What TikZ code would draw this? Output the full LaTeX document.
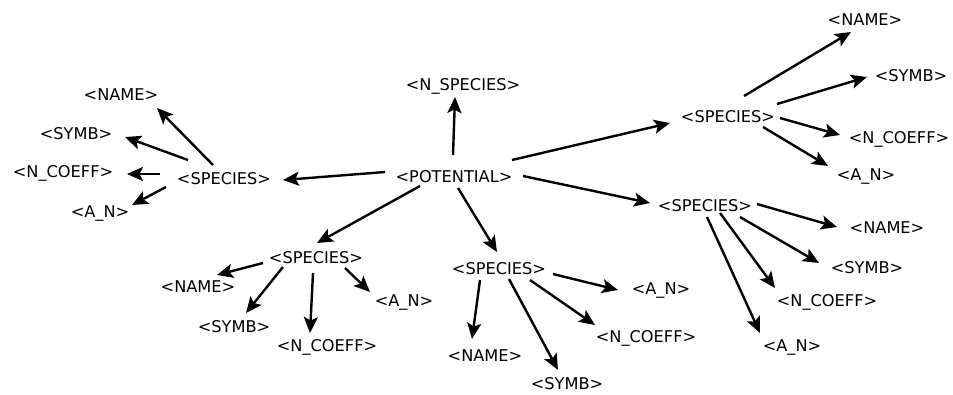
\documentclass[tikz,border=0pt]{standalone}
\usepackage{fontspec}
\setmainfont{DejaVu Sans}
\usetikzlibrary{arrows.meta}
\begin{document}
\begin{tikzpicture}[x=1pt,y=-1pt,
  lbl/.style={inner sep=0pt,font=\fontsize{16.2}{19}\selectfont},
  arr/.style={line width=2.4pt,-{Stealth[length=16pt,width=14pt,inset=3.5pt]}}]
\useasboundingbox[fill=white] (0,0) rectangle (953,394);
% nodes
\node[lbl] (pot) at (454,177) {<POTENTIAL>};
\node[lbl] (ns) at (463,86) {<N\_SPECIES>};
% left cluster
\node[lbl] (sp1) at (224,179) {<SPECIES>};
\node[lbl] (nm1) at (121,95) {<NAME>};
\node[lbl] (sy1) at (76,134) {<SYMB>};
\node[lbl] (nc1) at (63,173) {<N\_COEFF>};
\node[lbl] (an1) at (100,214) {<A\_N>};
% top right
\node[lbl] (sp2) at (728,117) {<SPECIES>};
\node[lbl] (nm2) at (865,20) {<NAME>};
\node[lbl] (sy2) at (911,76) {<SYMB>};
\node[lbl] (nc2) at (899,139) {<N\_COEFF>};
\node[lbl] (an2) at (866,177) {<A\_N>};
% right lower
\node[lbl] (sp3) at (705,206) {<SPECIES>};
\node[lbl] (nm3) at (887,228) {<NAME>};
\node[lbl] (sy3) at (867,268) {<SYMB>};
\node[lbl] (nc3) at (827,302) {<N\_COEFF>};
\node[lbl] (an3) at (792,347) {<A\_N>};
% bottom middle
\node[lbl] (sp4) at (499,269) {<SPECIES>};
\node[lbl] (nm4) at (485,356) {<NAME>};
\node[lbl] (sy4) at (567,384) {<SYMB>};
\node[lbl] (nc4) at (646,338) {<N\_COEFF>};
\node[lbl] (an4) at (661,290) {<A\_N>};
% bottom left
\node[lbl] (sp5) at (316,258) {<SPECIES>};
\node[lbl] (nm5) at (198,287) {<NAME>};
\node[lbl] (sy5) at (234,327) {<SYMB>};
\node[lbl] (nc5) at (327,347) {<N\_COEFF>};
\node[lbl] (an5) at (404,302) {<A\_N>};
% arrows
\draw[arr] ([shift={(-1,-22)}]pot.center) -- ([shift={(-8,11)}]ns.center);
\draw[arr] ([shift={(-69,-5)}]pot.center) -- ([shift={(59,1)}]sp1.center);
\draw[arr] ([shift={(58,-17)}]pot.center) -- ([shift={(-58,6)}]sp2.center);
\draw[arr] ([shift={(69,-1)}]pot.center) -- ([shift={(-55,-3)}]sp3.center);
\draw[arr] ([shift={(4,11)}]pot.center) -- ([shift={(-2,-17)}]sp4.center);
\draw[arr] ([shift={(-34,9)}]pot.center) -- ([shift={(1,-15)}]sp5.center);
% left
\draw[arr] ([shift={(-11,-14)}]sp1.center) -- ([shift={(36,13)}]nm1.center);
\draw[arr] ([shift={(-36,-19)}]sp1.center) -- ([shift={(49,3)}]sy1.center);
\draw[arr] ([shift={(-64,-5)}]sp1.center) -- ([shift={(64,1)}]nc1.center);
\draw[arr] ([shift={(-58,8)}]sp1.center) -- ([shift={(32,-9)}]an1.center);
% top right
\draw[arr] ([shift={(16,-21)}]sp2.center) -- ([shift={(-14,12)}]nm2.center);
\draw[arr] ([shift={(49,-13)}]sp2.center) -- ([shift={(-44,1)}]sy2.center);
\draw[arr] ([shift={(52,1)}]sp2.center) -- ([shift={(-59,-4)}]nc2.center);
\draw[arr] ([shift={(35,10)}]sp2.center) -- ([shift={(-38,-11)}]an2.center);
% right lower
\draw[arr] ([shift={(52,-2)}]sp3.center) -- ([shift={(-50,-1)}]nm3.center);
\draw[arr] ([shift={(35,11)}]sp3.center) -- ([shift={(-48,-5)}]sy3.center);
\draw[arr] ([shift={(15,7)}]sp3.center) -- ([shift={(-52,-14)}]nc3.center);
\draw[arr] ([shift={(2,11)}]sp3.center) -- ([shift={(-32,-14)}]an3.center);
% bottom middle
\draw[arr] ([shift={(-19,11)}]sp4.center) -- ([shift={(-13,-17)}]nm4.center);
\draw[arr] ([shift={(10,10)}]sp4.center) -- ([shift={(-9,-14)}]sy4.center);
\draw[arr] ([shift={(31,11)}]sp4.center) -- ([shift={(-51,-13)}]nc4.center);
\draw[arr] ([shift={(54,5)}]sp4.center) -- ([shift={(-43,0)}]an4.center);
% bottom left
\draw[arr] ([shift={(-53,5)}]sp5.center) -- ([shift={(19,-12)}]nm5.center);
\draw[arr] ([shift={(-33,9)}]sp5.center) -- ([shift={(12,-14)}]sy5.center);
\draw[arr] ([shift={(-3,15)}]sp5.center) -- ([shift={(-17,-14)}]nc5.center);
\draw[arr] ([shift={(29,10)}]sp5.center) -- ([shift={(-34,-10)}]an5.center);
\end{tikzpicture}
\end{document}
